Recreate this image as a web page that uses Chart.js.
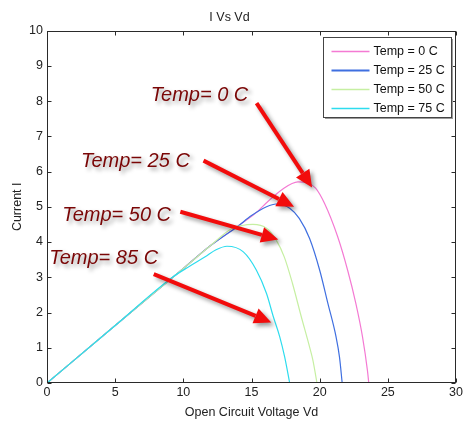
<!DOCTYPE html>
<html>
<head>
<meta charset="utf-8">
<script src="https://cdn.jsdelivr.net/npm/chart.js@4.4.1/dist/chart.umd.min.js"></script>
<style>
  html, body { margin: 0; padding: 0; background: #fff; }
</style>
</head>
<body>
<canvas id="ivChart" width="465" height="421"></canvas>
<script>
// ---- values ----
const v0  = [0, 5, 10, 12, 14, 15.3, 16.2, 17.2, 18.4, 19.1, 19.7, 20.35, 21.32, 22.05, 22.65, 23.14, 23.5, 23.6];
const i0  = [0, 1.63, 3.25, 3.9, 4.45, 4.82, 5.15, 5.48, 5.71, 5.68, 5.53, 5.10, 4.15, 3.2, 2.26, 1.31, 0.36, 0];

const v25 = [0, 5, 10, 12, 14, 15, 16.1, 16.8, 17.8, 18.5, 19.26, 20.0, 20.6, 21.2, 21.45, 21.65];
const i25 = [0, 1.63, 3.25, 3.9, 4.45, 4.75, 5.0, 5.08, 4.96, 4.67, 4.1, 3.2, 2.26, 1.31, 0.74, 0];

const v50 = [0, 5, 10, 12, 13.5, 14.3, 15.1, 16.1, 16.8, 17.4, 18.0, 18.65, 19.26, 19.5, 19.8];
const i50 = [0, 1.63, 3.25, 3.9, 4.37, 4.47, 4.5, 4.39, 4.06, 3.58, 2.83, 1.88, 1.02, 0.65, 0];

const v75 = [0, 5, 9.2, 10.4, 11.6, 12.4, 13.2, 14.4, 15.36, 16.1, 16.6, 17.07, 17.43, 17.8];
const i75 = [0, 1.63, 3.0, 3.3, 3.58, 3.78, 3.88, 3.72, 3.2, 2.54, 1.88, 1.31, 0.74, 0];

const seriesLabels = ['Temp = 0 C', 'Temp = 25 C', 'Temp = 50 C', 'Temp = 75 C'];
const xTicks = [0, 5, 10, 15, 20, 25, 30];
const yTicks = [0, 1, 2, 3, 4, 5, 6, 7, 8, 9, 10];

// callout labels + arrows, in axis units
const notes = [
    { text: 'Temp= 0 C',  at: [7.6, 7.99],  from: [15.37, 7.94], to: [19.44, 5.55] },
    { text: 'Temp= 25 C', at: [2.5, 6.13],  from: [11.48, 6.31], to: [18.12, 5.0] },
    { text: 'Temp= 50 C', at: [1.12, 4.59], from: [9.78, 4.86],  to: [16.96, 4.07] },
    { text: 'Temp= 85 C', at: [0.17, 3.37], from: [7.83, 3.09],  to: [16.45, 1.72] }
];

const COLORS = ['#f47ad3', '#3f6fe0', '#c6efa2', '#2ddcee'];
const FONT = "'Liberation Sans', Arial, sans-serif";
const TXT = '#222';

const pts = (vs, is) => vs.map((v, k) => ({ x: v, y: is[k] }));

// --- box, inward ticks ---
const framePlugin = {
    id: 'frame',
    afterDatasetsDraw(chart) {
        const { ctx, chartArea: a, scales: { x, y } } = chart;
        const L = Math.round(a.left) + 0.5, R = Math.round(a.right) - 0.5;
        const T = Math.round(a.top) + 0.5, B = Math.round(a.bottom) - 0.5;
        ctx.save();
        ctx.strokeStyle = '#2a2a2a';
        ctx.lineWidth = 1;
        ctx.strokeRect(L, T, R - L, B - T);
        ctx.beginPath();
        xTicks.forEach(v => {
            const px = Math.round(x.getPixelForValue(v)) + 0.5;
            ctx.moveTo(px, B); ctx.lineTo(px, B - 4);
            ctx.moveTo(px, T); ctx.lineTo(px, T + 4);
        });
        yTicks.forEach(v => {
            const py = Math.round(y.getPixelForValue(v)) + 0.5;
            ctx.moveTo(L, py); ctx.lineTo(L + 4, py);
            ctx.moveTo(R, py); ctx.lineTo(R - 4, py);
        });
        ctx.stroke();
        ctx.restore();
    }
};

// --- red arrows and callout text ---
const notesPlugin = {
    id: 'notes',
    afterDraw(chart) {
        const { ctx, scales: { x, y } } = chart;
        ctx.save();
        ctx.shadowColor = 'rgba(0,0,0,0.4)';
        ctx.shadowOffsetX = 3;
        ctx.shadowOffsetY = 3;
        ctx.shadowBlur = 4;
        notes.forEach(n => {
            const x1 = x.getPixelForValue(n.from[0]), y1 = y.getPixelForValue(n.from[1]);
            const x2 = x.getPixelForValue(n.to[0]),   y2 = y.getPixelForValue(n.to[1]);
            const ang = Math.atan2(y2 - y1, x2 - x1);
            const head = 17, half = 8;
            const bx = x2 - head * Math.cos(ang), by = y2 - head * Math.sin(ang);
            ctx.strokeStyle = '#f20c0c';
            ctx.fillStyle = '#f20c0c';
            ctx.lineWidth = 4;
            ctx.beginPath();
            ctx.moveTo(x1, y1);
            ctx.lineTo(bx, by);
            ctx.stroke();
            ctx.beginPath();
            ctx.moveTo(x2, y2);
            ctx.lineTo(bx + half * Math.sin(ang), by - half * Math.cos(ang));
            ctx.lineTo(bx - half * Math.sin(ang), by + half * Math.cos(ang));
            ctx.closePath();
            ctx.fill();

            ctx.fillStyle = '#7a0606';
            ctx.font = 'italic 20px ' + FONT;
            ctx.textAlign = 'left';
            ctx.textBaseline = 'alphabetic';
            ctx.fillText(n.text, x.getPixelForValue(n.at[0]), y.getPixelForValue(n.at[1]));
        });
        ctx.restore();
    }
};

// --- boxed legend in the top right corner ---
const boxLegend = {
    id: 'boxLegend',
    afterDraw(chart) {
        const { ctx, chartArea: a } = chart;
        const w = 128, h = 80;
        const bx = Math.round(a.right) - 5 - w + 0.5, by = Math.round(a.top) + 6 + 0.5;
        ctx.save();
        ctx.fillStyle = '#9a9a9a';
        ctx.fillRect(bx + 1.5, by + 1.5, w, h);
        ctx.fillStyle = '#fff';
        ctx.fillRect(bx, by, w, h);
        ctx.strokeStyle = '#444';
        ctx.lineWidth = 1;
        ctx.strokeRect(bx, by, w, h);
        ctx.font = '12.5px ' + FONT;
        ctx.textBaseline = 'middle';
        ctx.fillStyle = '#111';
        chart.data.datasets.forEach((ds, k) => {
            const cy = Math.round(by + 13.5 + k * 19) + 0.5;
            ctx.strokeStyle = ds.borderColor;
            ctx.lineWidth = k === 1 ? 2 : 1.5;
            ctx.beginPath();
            ctx.moveTo(bx + 8, cy);
            ctx.lineTo(bx + 46, cy);
            ctx.stroke();
            ctx.fillText(ds.label, bx + 50, cy);
        });
        ctx.restore();
    }
};

const series = [[v0, i0], [v25, i25], [v50, i50], [v75, i75]];

new Chart(document.getElementById('ivChart'), {
    type: 'line',
    data: {
        datasets: series.map((s, k) => ({
            label: seriesLabels[k],
            data: pts(s[0], s[1]),
            borderColor: COLORS[k],
            borderWidth: 1.2,
            pointRadius: 0,
            fill: false,
            cubicInterpolationMode: 'monotone',
            order: 3 - k
        }))
    },
    options: {
        responsive: false,
        animation: false,
        layout: { padding: { right: 6 } },
        plugins: {
            legend: { display: false },
            tooltip: { enabled: false },
            title: {
                display: true,
                text: 'I Vs Vd',
                color: TXT,
                font: { family: FONT, size: 12.5, weight: 'normal' },
                padding: { top: 10, bottom: 5.6 }
            }
        },
        scales: {
            x: {
                type: 'linear',
                min: 0, max: 30,
                afterBuildTicks: s => { s.ticks = xTicks.map(v => ({ value: v })); },
                afterFit: s => { s.height = 38; },
                grid: { display: false, drawTicks: false },
                border: { display: false },
                ticks: { padding: 2, color: TXT, font: { family: FONT, size: 12.5 }, maxRotation: 0 },
                title: {
                    display: true, text: 'Open Circuit Voltage Vd', color: TXT,
                    font: { family: FONT, size: 12.5 }, padding: { top: 0, bottom: 1 }
                }
            },
            y: {
                type: 'linear',
                min: 0, max: 10,
                afterBuildTicks: s => { s.ticks = yTicks.map(v => ({ value: v })); },
                afterFit: s => { s.width = 47; },
                grid: { display: false, drawTicks: false },
                border: { display: false },
                ticks: { padding: 4, color: TXT, font: { family: FONT, size: 12.5 } },
                title: {
                    display: true, text: 'Current I', color: TXT,
                    font: { family: FONT, size: 12.5 }, padding: { top: 10, bottom: 0 }
                }
            }
        }
    },
    plugins: [framePlugin, notesPlugin, boxLegend]
});
</script>
</body>
</html>
